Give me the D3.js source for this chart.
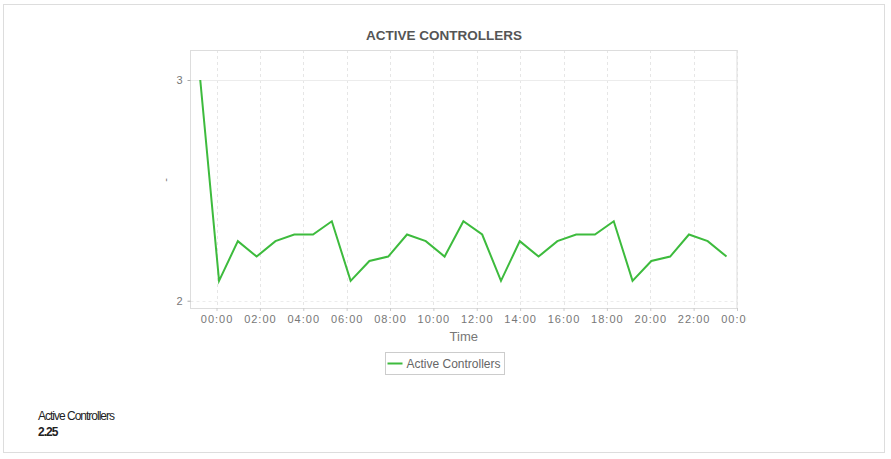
<!DOCTYPE html>
<html>
<head>
<meta charset="utf-8">
<script src="https://cdn.jsdelivr.net/npm/d3@7"></script>
<style>
  html, body { margin: 0; padding: 0; background: #fff; }
  svg { display: block; font-family: "Liberation Sans", Arial, sans-serif; }
  .tick text { fill: #777; font-size: 11px; letter-spacing: 1px; }
</style>
</head>
<body>
<svg id="chart" width="891" height="459"></svg>
<script>
// --- data --------------------------------------------------------------------
const times = [
  "2024-01-01 23:15", "2024-01-02 00:07", "2024-01-02 00:59", "2024-01-02 01:51",
  "2024-01-02 02:43", "2024-01-02 03:35", "2024-01-02 04:27", "2024-01-02 05:19",
  "2024-01-02 06:11", "2024-01-02 07:03", "2024-01-02 07:55", "2024-01-02 08:47",
  "2024-01-02 09:39", "2024-01-02 10:31", "2024-01-02 11:23", "2024-01-02 12:15",
  "2024-01-02 13:07", "2024-01-02 13:59", "2024-01-02 14:51", "2024-01-02 15:43",
  "2024-01-02 16:35", "2024-01-02 17:27", "2024-01-02 18:19", "2024-01-02 19:11",
  "2024-01-02 20:03", "2024-01-02 20:55", "2024-01-02 21:47", "2024-01-02 22:39",
  "2024-01-02 23:31"
];
const activeControllers = [
  3.00, 2.09, 2.27, 2.20, 2.27, 2.30, 2.30, 2.36,
  2.09, 2.18, 2.20, 2.30, 2.27, 2.20, 2.36, 2.30,
  2.09, 2.27, 2.20, 2.27, 2.30, 2.30, 2.36, 2.09,
  2.18, 2.20, 2.30, 2.27, 2.20
];
const xDomain = ["2024-01-01 22:48", "2024-01-03 00:00"];
const yDomain = [1.967, 3.136];
const yTicks = [2, 3];
const seriesName = "Active Controllers";
const summaryValue = "2.25";

// --- layout ------------------------------------------------------------------
const svg = d3.select('#chart');
const parse = d3.timeParse('%Y-%m-%d %H:%M');
const plot = {left: 190.5, right: 737, top: 50, bottom: 308};
const green = '#3dbb3d';

const x = d3.scaleTime().domain(xDomain.map(parse)).range([plot.left, plot.right]);
const y = d3.scaleLinear().domain(yDomain).range([plot.bottom, plot.top]);
const data = times.map((t, i) => ({t: parse(t), v: activeControllers[i]}));

// the chart canvas ends a little past the plot, so the last tick label is cut
svg.append('defs').append('clipPath').attr('id', 'canvas')
  .append('rect').attr('x', 0).attr('y', 0).attr('width', 747).attr('height', 459);

// outer container
svg.append('rect')
  .attr('x', 3.5).attr('y', 4.5).attr('width', 881).attr('height', 448)
  .attr('fill', '#fff').attr('stroke', '#ddd');

svg.append('text')
  .attr('x', 444).attr('y', 39.5).attr('text-anchor', 'middle')
  .attr('font-size', 13.5).attr('font-weight', 'bold').attr('fill', '#555')
  .text('ACTIVE CONTROLLERS');

// grid
const xTicks = x.ticks(d3.timeHour.every(2));
svg.append('g').selectAll('line')
  .data(xTicks).join('line')
  .attr('x1', d => Math.round(x(d)) + 0.5).attr('x2', d => Math.round(x(d)) + 0.5)
  .attr('y1', plot.top).attr('y2', plot.bottom)
  .attr('stroke', '#e6e6e6').attr('stroke-dasharray', '3,3');
svg.append('g').selectAll('line')
  .data(yTicks).join('line')
  .attr('x1', plot.left).attr('x2', plot.right)
  .attr('y1', d => Math.round(y(d)) + 0.5).attr('y2', d => Math.round(y(d)) + 0.5)
  .attr('stroke', '#ececec').attr('stroke-dasharray', d => d === 2 ? '3,3' : null);

// plot frame
svg.append('rect')
  .attr('x', plot.left).attr('y', plot.top + 0.5)
  .attr('width', plot.right - plot.left).attr('height', plot.bottom - plot.top)
  .attr('fill', 'none').attr('stroke', '#ddd');

// axes
const xAxis = svg.append('g')
  .attr('clip-path', 'url(#canvas)')
  .append('g')
  .attr('transform', `translate(0,${plot.bottom})`)
  .call(d3.axisBottom(x).ticks(d3.timeHour.every(2)).tickFormat(d3.timeFormat('%H:%M'))
    .tickSize(3).tickPadding(4));
xAxis.select('.domain').remove();
xAxis.selectAll('.tick line').attr('stroke', '#ccc');

const yAxis = svg.append('g')
  .attr('transform', `translate(${plot.left},0)`)
  .call(d3.axisLeft(y).tickValues(yTicks).tickFormat(d3.format('d')).tickSize(3).tickPadding(4));
yAxis.select('.domain').remove();
yAxis.selectAll('.tick line').attr('stroke', '#aaa');

svg.append('text')
  .attr('x', (plot.left + plot.right) / 2).attr('y', 340.5).attr('text-anchor', 'middle')
  .attr('font-size', 13).attr('fill', '#777').text('Time');

svg.append('text')
  .attr('transform', 'translate(169,180) rotate(-90)').attr('text-anchor', 'middle')
  .attr('font-size', 11).attr('fill', '#777').text('-');

// series
svg.append('path')
  .datum(data)
  .attr('fill', 'none').attr('stroke', green).attr('stroke-width', 2)
  .attr('stroke-linejoin', 'miter')
  .attr('d', d3.line().x(d => x(d.t)).y(d => y(d.v)));

// legend
const lg = svg.append('g').attr('transform', 'translate(385.5,352.5)');
lg.append('rect').attr('width', 119).attr('height', 22)
  .attr('fill', '#fff').attr('stroke', '#ccc');
lg.append('line').attr('x1', 2).attr('x2', 17).attr('y1', 11).attr('y2', 11)
  .attr('stroke', green).attr('stroke-width', 2);
lg.append('text').attr('x', 21).attr('y', 15.5)
  .attr('font-size', 12).attr('fill', '#666').text(seriesName);

// summary
svg.append('text').attr('x', 38).attr('y', 420)
  .attr('font-size', 12).attr('letter-spacing', '-1px').attr('fill', '#222').text(seriesName);
svg.append('text').attr('x', 38).attr('y', 436)
  .attr('font-size', 12).attr('font-weight', 'bold').attr('letter-spacing', '-1px')
  .attr('fill', '#222').text(summaryValue);
</script>
</body>
</html>
